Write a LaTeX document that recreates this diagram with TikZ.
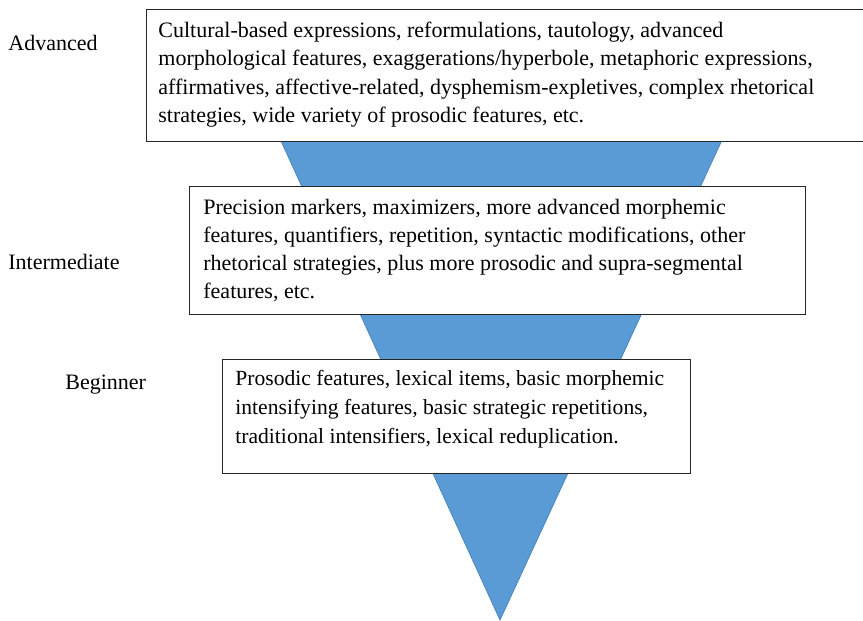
\documentclass[tikz,border=0pt]{standalone}
\usepackage{fontspec}
\setmainfont{Liberation Serif}
\usetikzlibrary{positioning}
\definecolor{funnelblue}{HTML}{5B9BD5}
\definecolor{funneledge}{HTML}{4A86C0}

\begin{document}
\begin{tikzpicture}[
    x=0.5pt, y=-0.5pt,
    level/.style={
      anchor=west,
      inner sep=0pt,
      font=\fontsize{11}{13}\selectfont
    },
    featurebox/.style={
      draw=black!85,
      fill=white,
      line width=0.7pt,
      anchor=north west,
      inner sep=0pt
    },
    featuretext/.style={
      inner sep=0pt,
      align=left
    }
  ]
  \useasboundingbox (0, 0) rectangle (863, 621);

  % the funnel behind the boxes
  \fill[
    funnelblue,
    draw=funneledge,
    line width=0.4pt
  ] (244, 60) -- (759, 60) -- (500, 620) -- cycle;

  % boxes
  \node[featurebox, minimum width=366pt, minimum height=66pt] (adv) at (146, 9) {};
  \node[featurebox, minimum width=308pt, minimum height=64pt] (inter) at (189, 186) {};
  \node[featurebox, minimum width=234pt, minimum height=57pt] (begin) at (222, 359) {};

  % texts in the boxes
  \node[
    featuretext,
    font=\fontsize{11}{14.25}\selectfont,
    below right=6.3pt and 6pt of adv.north west
  ] (advtext) {Cultural-based expressions, reformulations, tautology, advanced\\
    morphological features, exaggerations/hyperbole, metaphoric expressions,\\
    affirmatives, affective-related, dysphemism-expletives, complex rhetorical\\
    strategies, wide variety of prosodic features, etc.};

  \node[
    featuretext,
    font=\fontsize{11}{13.9}\selectfont,
    below right=6.5pt and 7pt of inter.north west
  ] (intertext) {Precision markers, maximizers, more advanced morphemic\\
    features, quantifiers, repetition, syntactic modifications, other\\
    rhetorical strategies, plus more prosodic and supra-segmental\\
    features, etc.};

  \node[
    featuretext,
    font=\fontsize{10.8}{14.5}\selectfont,
    below right=5.6pt and 6.5pt of begin.north west
  ] (begintext) {Prosodic features, lexical items, basic morphemic\\
    intensifying features, basic strategic repetitions,\\
    traditional intensifiers, lexical reduplication.};

  % level names
  \node[level] (advlabel) at (8, 43) {Advanced};
  \node[level] (interlabel) at (8, 262) {Intermediate};
  \node[level] (beginlabel) at (65, 385) {Beginner};

\end{tikzpicture}
\end{document}
